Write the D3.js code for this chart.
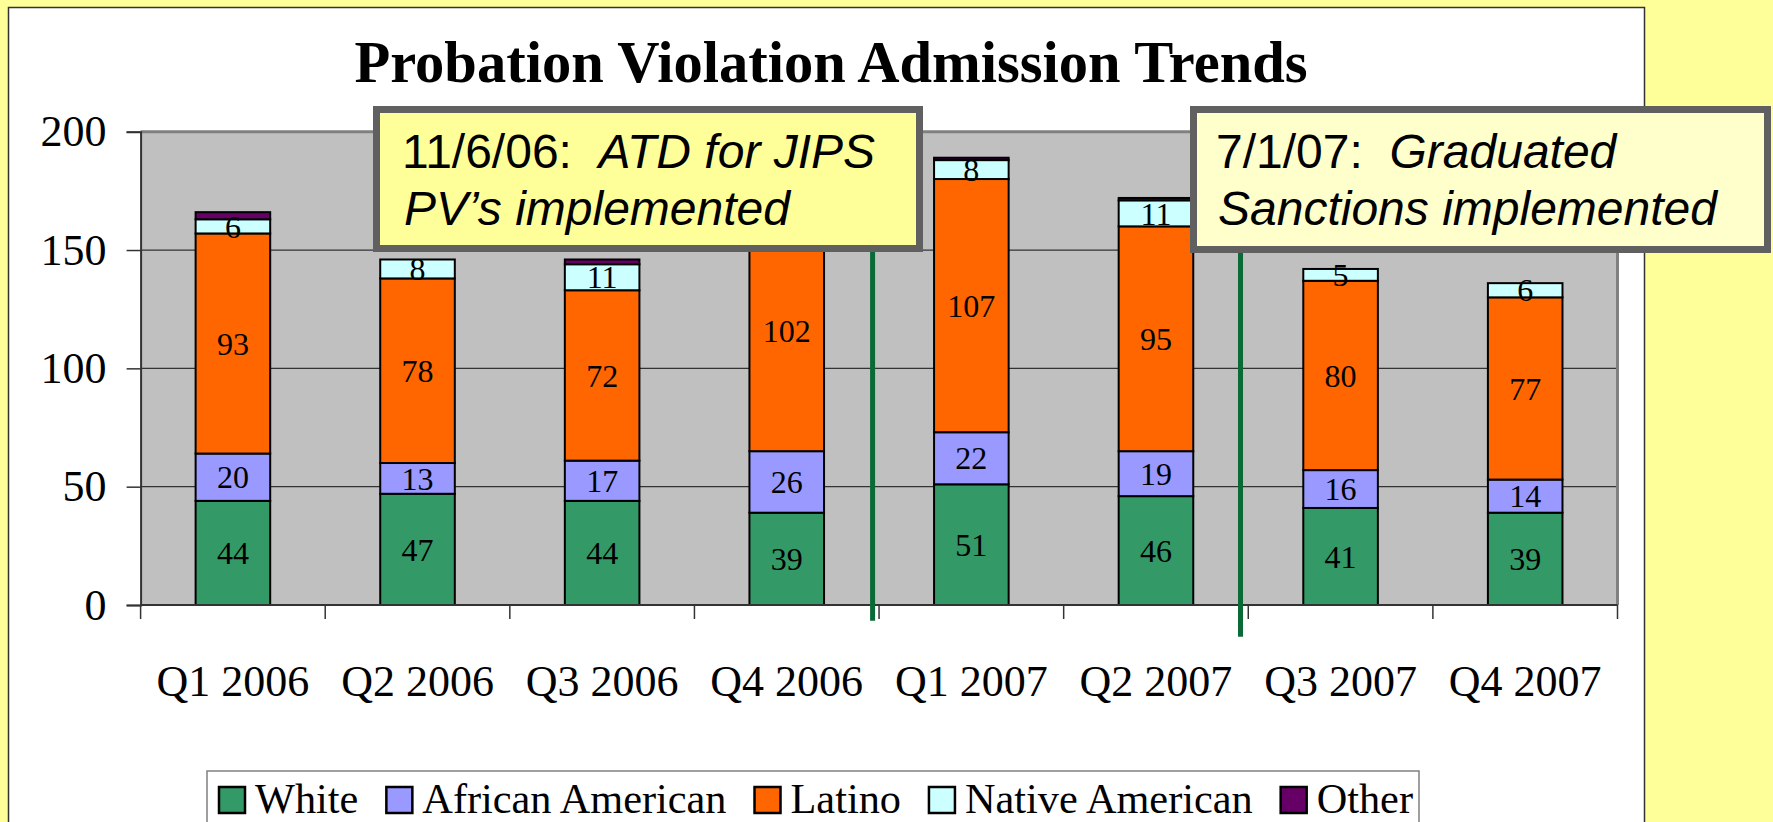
<!DOCTYPE html>
<html>
<head>
<meta charset="utf-8">
<script src="https://cdn.jsdelivr.net/npm/d3@7"></script>
<style>
  html, body { margin: 0; padding: 0; background: #FFFF99; }
  svg { display: block; }
  text { white-space: pre; }
</style>
</head>
<body>
<svg id="chart" width="1773" height="822"></svg>
<script>
// ---- data ----
const categories = ["Q1 2006", "Q2 2006", "Q3 2006", "Q4 2006", "Q1 2007", "Q2 2007", "Q3 2007", "Q4 2007"];
const seriesNames = ["White", "African American", "Latino", "Native American", "Other"];
const white = [44, 47, 44, 39, 51, 46, 41, 39];
const africanAmerican = [20, 13, 17, 26, 22, 19, 16, 14];
const latino = [93, 78, 72, 102, 107, 95, 80, 77];
const nativeAmerican = [6, 8, 11, 8, 8, 11, 5, 6];
const other = [3, 0, 2, 1, 1, 1, 0, 0];
const yTicks = [0, 50, 100, 150, 200];
const chartTitle = "Probation Violation Admission Trends";
// annotations: position in category units (0 = left edge of first category)
const noteAt = [3.965, 5.958];
const noteDate = ["11/6/06:  ", "7/1/07:  "];
const noteLine1 = ["ATD for JIPS", "Graduated"];
const noteLine2 = ["PV\u2019s implemented", "Sanctions implemented"];

// ---- styles ----
const colors = ["#339966", "#9999FF", "#FF6600", "#CCFFFF", "#660066"];
const serif = "'Liberation Serif', 'Times New Roman', serif";
const sans = "'Liberation Sans', Arial, sans-serif";

const svg = d3.select("#chart");
svg.append("rect").attr("width", 1773).attr("height", 822).attr("fill", "#FFFF99");
// white chart area
svg.append("rect").attr("x", 8.5).attr("y", 7.5).attr("width", 1636).attr("height", 900)
  .attr("fill", "#FFFFFF").attr("stroke", "#333").attr("stroke-width", 1.5);

// title
svg.append("text").attr("x", 831).attr("y", 82).attr("text-anchor", "middle")
  .attr("font-family", serif).attr("font-weight", "bold").attr("font-size", 58.5)
  .text(chartTitle);

const plot = { left: 140.6, right: 1617.5, top: 131.7, bottom: 605 };
const x = d3.scaleBand().domain(categories).range([plot.left, plot.right]).padding(0);
const xPos = d3.scaleLinear().domain([0, categories.length]).range([plot.left, plot.right]);
const y = d3.scaleLinear().domain([0, 200]).range([plot.bottom, plot.top]);
const barW = x.bandwidth() * 0.404;

// annotation boxes (layout)
const boxes = [
  { x: 376.5, y: 109.5, w: 543, h: 139, fill: "#FFFF99", tx: 402 },
  { x: 1193.5, y: 109.5, w: 574, h: 140, fill: "#FFFFCC", tx: 1216 }
];
const underBox = (px, py) => boxes.some(b => px > b.x - 4 && px < b.x + b.w + 4 && py > b.y - 4 && py < b.y + b.h + 4);

// plot background
svg.append("rect").attr("x", plot.left).attr("y", plot.top)
  .attr("width", plot.right - plot.left).attr("height", plot.bottom - plot.top)
  .attr("fill", "#C0C0C0");
// gridlines
svg.append("g").selectAll("line").data(yTicks.filter(v => v > 0 && v < 200)).join("line")
  .attr("x1", plot.left).attr("x2", plot.right)
  .attr("y1", d => y(d)).attr("y2", d => y(d))
  .attr("stroke", "#333").attr("stroke-width", 1.2);
// top and right border
svg.append("path")
  .attr("d", `M${plot.left},${y(200)}H${plot.right}V${plot.bottom}`)
  .attr("fill", "none").attr("stroke", "#808080").attr("stroke-width", 3);

// stacked bars
const rows = categories.map((c, i) => ({
  cat: c,
  "White": white[i],
  "African American": africanAmerican[i],
  "Latino": latino[i],
  "Native American": nativeAmerican[i],
  "Other": other[i]
}));
const stacked = d3.stack().keys(seriesNames)(rows);
const gBars = svg.append("g");
stacked.forEach((layer, li) => {
  gBars.append("g").selectAll("rect").data(layer).join("rect")
    .attr("x", d => x(d.data.cat) + (x.bandwidth() - barW) / 2)
    .attr("y", d => y(d[1]))
    .attr("width", barW)
    .attr("height", d => Math.max(0, y(d[0]) - y(d[1])))
    .attr("fill", colors[li])
    .attr("stroke", "#000").attr("stroke-width", 2);
});
// data labels (not for Other; skip ones hidden under the note boxes)
stacked.forEach((layer, li) => {
  if (seriesNames[li] === "Other") return;
  const visible = layer.filter(d => !underBox(x(d.data.cat) + x.bandwidth() / 2, (y(d[0]) + y(d[1])) / 2));
  gBars.append("g").selectAll("text").data(visible).join("text")
    .attr("x", d => x(d.data.cat) + x.bandwidth() / 2)
    .attr("y", d => (y(d[0]) + y(d[1])) / 2)
    .attr("dy", "0.35em")
    .attr("text-anchor", "middle")
    .attr("font-family", serif).attr("font-size", 32)
    .text(d => d[1] - d[0]);
});

// y axis
const yAxis = svg.append("g").attr("transform", `translate(${plot.left},0)`)
  .call(d3.axisLeft(y).tickValues(yTicks).tickSize(14).tickPadding(20));
yAxis.select(".domain").attr("stroke", "#333").attr("stroke-width", 2);
yAxis.selectAll(".tick line").attr("stroke", "#333").attr("stroke-width", 1.5);
yAxis.selectAll(".tick text").attr("font-family", serif).attr("font-size", 44).attr("fill", "#000");

// x axis line + ticks at category boundaries
svg.append("line").attr("x1", plot.left).attr("x2", plot.right)
  .attr("y1", plot.bottom).attr("y2", plot.bottom)
  .attr("stroke", "#333").attr("stroke-width", 2);
svg.append("g").selectAll("line").data(d3.range(categories.length + 1)).join("line")
  .attr("x1", d => xPos(d)).attr("x2", d => xPos(d))
  .attr("y1", plot.bottom).attr("y2", plot.bottom + 14)
  .attr("stroke", "#333").attr("stroke-width", 1.5);
svg.append("g").selectAll("text").data(categories).join("text")
  .attr("x", d => x(d) + x.bandwidth() / 2).attr("y", 696)
  .attr("text-anchor", "middle")
  .attr("font-family", serif).attr("font-size", 44)
  .text(d => d);

// annotation lines
const lineBottoms = [620.7, 636.7];
svg.append("g").selectAll("line").data(noteAt).join("line")
  .attr("x1", d => xPos(d)).attr("x2", d => xPos(d))
  .attr("y1", 200).attr("y2", (d, i) => lineBottoms[i])
  .attr("stroke", "#0A6A35").attr("stroke-width", 5);

// annotation boxes
boxes.forEach((b, i) => {
  svg.append("rect").attr("x", b.x).attr("y", b.y).attr("width", b.w).attr("height", b.h)
    .attr("fill", b.fill).attr("stroke", "#606060").attr("stroke-width", 7);
  const t1 = svg.append("text").attr("x", b.tx).attr("y", 168)
    .attr("font-family", sans).attr("font-size", 48);
  t1.append("tspan").text(noteDate[i]);
  t1.append("tspan").attr("font-style", "italic").text(noteLine1[i]);
  svg.append("text").attr("x", b.tx + 2).attr("y", 225)
    .attr("font-family", sans).attr("font-size", 48).attr("font-style", "italic")
    .text(noteLine2[i]);
});

// legend
svg.append("rect").attr("x", 207).attr("y", 771).attr("width", 1212).attr("height", 80)
  .attr("fill", "#FFFFFF").attr("stroke", "#808080").attr("stroke-width", 1.5);
let lx = 219;
seriesNames.forEach((name, i) => {
  svg.append("rect").attr("x", lx).attr("y", 787).attr("width", 26).attr("height", 26)
    .attr("fill", colors[i]).attr("stroke", "#000").attr("stroke-width", 2.5);
  const t = svg.append("text").attr("x", lx + 36).attr("y", 813)
    .attr("font-family", serif).attr("font-size", 42.3).text(name);
  lx = lx + 36 + t.node().getComputedTextLength() + 28;
});
</script>
</body>
</html>
